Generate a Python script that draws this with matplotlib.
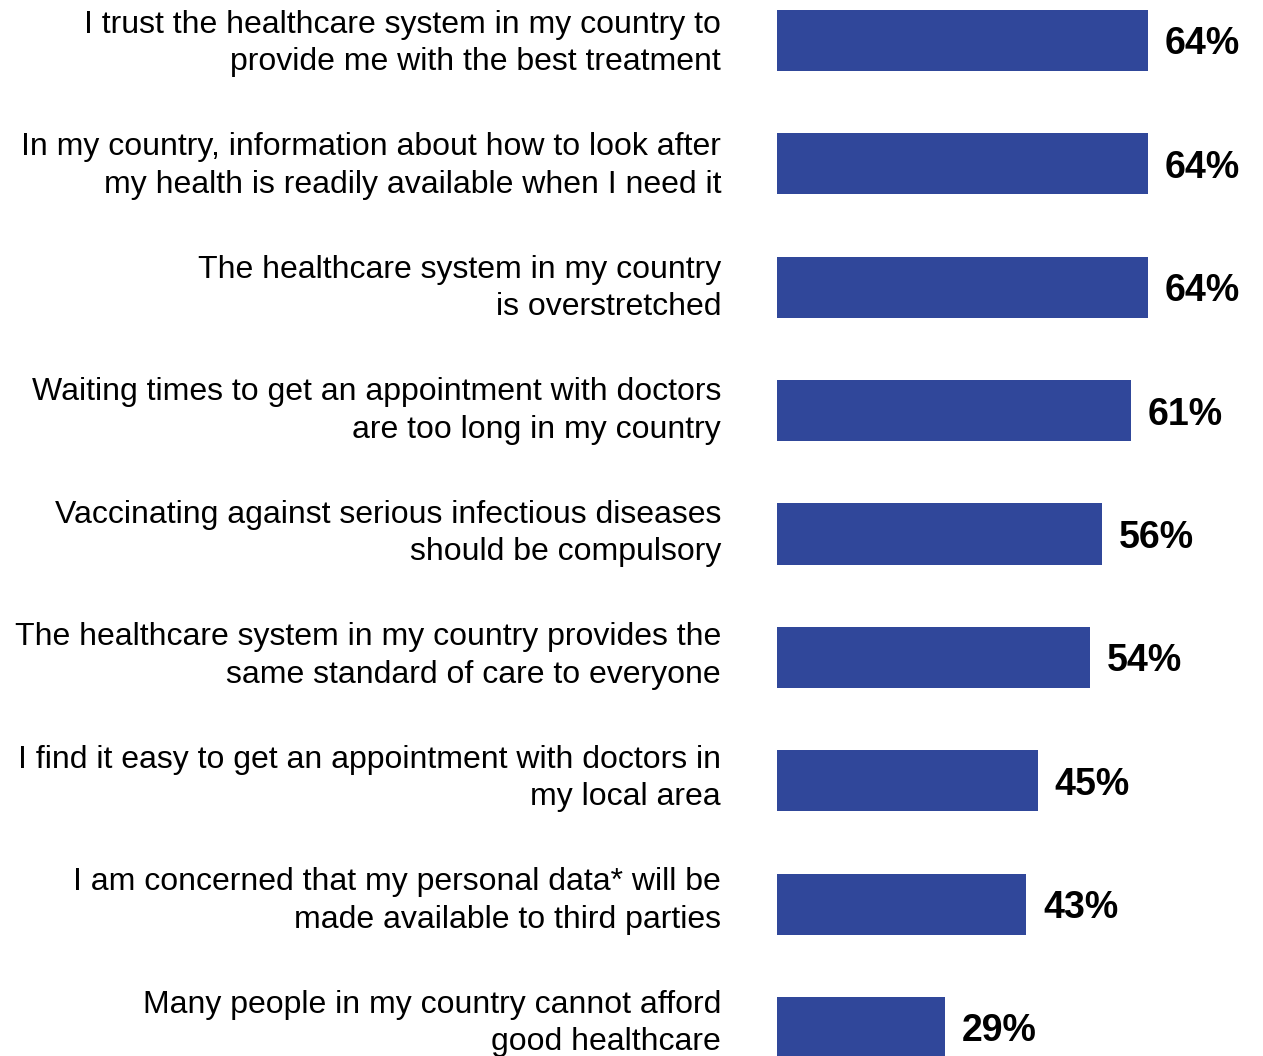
import matplotlib
matplotlib.use("Agg")
import matplotlib.pyplot as plt

categories = [
    "I trust the healthcare system in my country to\nprovide me with the best treatment",
    "In my country, information about how to look after\nmy health is readily available when I need it",
    "The healthcare system in my country\nis overstretched",
    "Waiting times to get an appointment with doctors\nare too long in my country",
    "Vaccinating against serious infectious diseases\nshould be compulsory",
    "The healthcare system in my country provides the\nsame standard of care to everyone",
    "I find it easy to get an appointment with doctors in\nmy local area",
    "I am concerned that my personal data* will be\nmade available to third parties",
    "Many people in my country cannot afford\ngood healthcare",
]
values = [64, 64, 64, 61, 56, 54, 45, 43, 29]
value_labels = ["64%", "64%", "64%", "61%", "56%", "54%", "45%", "43%", "29%"]

W, H = 1263, 1056
fig = plt.figure(figsize=(W / 100, H / 100), dpi=100)
ax = fig.add_axes([777 / W, 0, 1 - 777 / W, 1])

pos = list(range(len(values)))
ax.barh(pos, values, height=0.495, color="#30479A", edgecolor="none")
ax.set_xlim(0, (W - 777) / 5.797)
ax.set_ylim(8.231, -0.328)
ax.axis("off")

for i, (v, lab, cat) in enumerate(zip(values, value_labels, categories)):
    ax.annotate(lab, xy=(v, i), xytext=(17 * 0.72, 0), textcoords="offset points",
                ha="left", va="center_baseline", fontsize=27, fontweight="bold",
                family=["Liberation Sans", "DejaVu Sans"], color="black",
                annotation_clip=False)
    ax.annotate(cat, xy=(0, i), xytext=(-56 * 0.72, (-3 + 0.85 * i) * 0.72),
                textcoords="offset points",
                ha="right", va="center", fontsize=23, multialignment="right",
                family=["Liberation Sans", "DejaVu Sans"], color="black",
                linespacing=1.33, annotation_clip=False)

fig.savefig("out.png", dpi=100)
